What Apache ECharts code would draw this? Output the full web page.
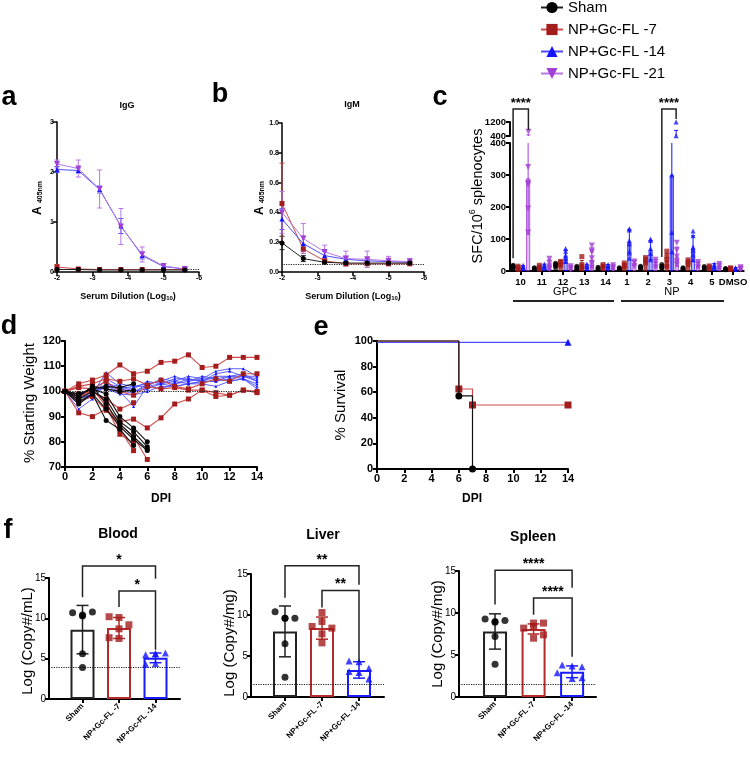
<!DOCTYPE html>
<html><head><meta charset="utf-8">
<script src="https://cdn.jsdelivr.net/npm/echarts@6/dist/echarts.min.js"></script>
<style>html,body{margin:0;padding:0;background:#fff}#c{width:750px;height:758px}</style>
</head><body><div id="c"></div>
<script>
// ================= DATA =================
const groupNames = ['Sham', 'NP+Gc-FL -7', 'NP+Gc-FL -14', 'NP+Gc-FL -21'];

// (a) IgG ELISA, (b) IgM ELISA
const dilutions = [-2, -2.6, -3.2, -3.8, -4.4, -5, -5.6];
const iggSham = [0.05, 0.05, 0.04, 0.04, 0.04, 0.04, 0.04];
const iggShamSd = [0.01, 0.01, 0.01, 0.01, 0.01, 0.01, 0.01];
const iggNp7 = [0.10, 0.06, 0.05, 0.05, 0.05, 0.05, 0.05];
const iggNp7Sd = [0.05, 0.02, 0.01, 0.01, 0.01, 0.01, 0.01];
const iggNp14 = [2.05, 2.03, 1.65, 0.92, 0.33, 0.11, 0.06];
const iggNp14Sd = [0.06, 0.05, 0.07, 0.15, 0.07, 0.03, 0.02];
const iggNp21 = [2.16, 2.07, 1.66, 0.91, 0.35, 0.12, 0.06];
const iggNp21Sd = [0.08, 0.17, 0.38, 0.36, 0.15, 0.05, 0.02];

const igmSham = [0.195, 0.09, 0.065, 0.06, 0.06, 0.06, 0.06];
const igmShamSd = [0.045, 0.02, 0.01, 0.01, 0.01, 0.01, 0.01];
const igmNp7 = [0.46, 0.155, 0.075, 0.055, 0.055, 0.055, 0.055];
const igmNp7Sd = [0.27, 0.03, 0.01, 0.01, 0.01, 0.01, 0.01];
const igmNp14 = [0.355, 0.19, 0.11, 0.085, 0.075, 0.07, 0.065];
const igmNp14Sd = [0.07, 0.05, 0.03, 0.02, 0.015, 0.01, 0.01];
const igmNp21 = [0.40, 0.225, 0.135, 0.09, 0.085, 0.075, 0.07];
const igmNp21Sd = [0.14, 0.10, 0.045, 0.05, 0.055, 0.03, 0.02];
const elisaCutoff = 0.05;

// (c) ELISpot
const cCats = ['10', '11', '12', '13', '14', '1', '2', '3', '4', '5', 'DMSO'];
const cSham = [14, 8, 20, 10, 8, 8, 12, 15, 8, 10, 6];
const cShamSd = [4, 3, 4, 5, 3, 3, 3, 5, 3, 4, 2];
const cNp7 = [10, 12, 25, 18, 15, 18, 35, 35, 28, 12, 8];
const cNp7Sd = [5, 5, 8, 15, 5, 6, 8, 20, 6, 5, 3];
const cNp14 = [12, 15, 45, 15, 15, 90, 65, 300, 70, 15, 8];
const cNp14Sd = [5, 6, 20, 6, 5, 40, 30, 420, 40, 8, 3];
const cNp21 = [290, 20, 10, 35, 12, 25, 20, 45, 20, 15, 8];
const cNp21Sd = [175, 15, 5, 25, 6, 8, 8, 30, 8, 8, 3];
const cShamDots = [[10,15,18,12],[5,8,10],[15,20,24],[5,10,15],[5,8,12],[5,8,10],[8,12,15],[10,15,20],[5,8,10],[6,10,14],[4,6,8]];
const cNp7Dots = [[5,10,15],[6,12,18],[18,25,30],[8,15,20,45],[10,15,20],[12,18,25],[25,35,42],[15,35,45,62],[20,28,35],[8,12,16],[5,8,10]];
const cNp14Dots = [[8,12,18],[10,15,22],[30,40,50,62,70],[8,15,22],[10,15,20],[40,60,85,95,128,132],[35,55,70,95,100],[60,120,300,420,1200],[35,50,65,75,110,125],[8,15,22],[5,8,10]];
const cNp21Dots = [[120,195,270,275,325,640],[8,15,25,38],[5,10,15],[10,25,40,60,65,80],[8,12,18],[15,25,30],[12,20,28,35],[20,30,45,65,88],[12,20,28],[8,15,22],[5,8,12]];
const cBreakLow = 400, cBreakHigh = 1200;
const cBrackets = [ // [category, left group, right group, left foot, right foot, top, label]
  [0, 0, 3, 40, 750, 1950, '****'],
  [7, 0, 2, 44, 1370, 1950, '****']
];
const cGroupLabels = ['GPC', 'NP'];

// (d) weight per mouse, index = day post infection
const dDays = [0,1,2,3,4,5,6,7,8,9,10,11,12,13,14];
const dShamMice = [
  [100, 99, 101, 99, 90, 85.5, 80],
  [100, 97, 100, 97, 88, 84, 78],
  [100, 98, 102, 95, 87, 82, 77],
  [100, 96, 99, 93, 86, 81, 76.5],
  [100, 95, 99, 88.5, 85, 78.5],
  [100, 99, 101, 102, 101.5, 103],
  [100, 98, 102, 101, 100, 100.5]
];
const dNp7Mice = [
  [100, 103, 104.5, 106.5, 110.5, 107, 108, 111.5, 112, 114.5, 109.5, 110, 113.5, 113.5, 113.5],
  [100, 91.5, 90, 93, 88, 89, 85.5, 89.5, 95, 97, 100.5, 99.5, 98.5, 100.5, 100],
  [100, 102, 103, 105, 104, 105, 102.5, 104.5, 102, 101, 103, 105, 104, 107, 107],
  [100, 101.5, 101, 104, 100, 98.5, 102, 101, 101.5, 100.5, 100.5, 98, 98.5, 100.5, 99.5],
  [100, 98, 100, 97, 93, 95.5],
  [100, 99, 100, 96, 85, 76.5],
  [100, 97, 101, 94, 83, 79.5],
  [100, 96, 98, 92.5, 87, 82, 73]
];
const dNp14Mice = [
  [100, 97, 99, 107.5, 103, 102, 103, 104, 106, 104, 105, 108, 109, 109, 106],
  [100, 96, 98, 105, 102, 101, 104, 103, 105, 105, 104, 107, 108, 106, 104],
  [100, 93, 97, 103, 101, 100, 102, 105, 104, 106, 105, 105, 104, 105, 103],
  [100, 98, 100, 102, 100, 94, 102, 101, 103, 105, 104, 104, 105, 106, 105],
  [100, 99, 101, 101, 99, 98.5, 100, 102, 102, 103, 103, 102, 104, 105, 102],
  [100, 95, 99, 103, 102, 100, 101, 103, 102, 103, 104, 106, 106, 107, 104],
  [100, 98, 101, 104, 100, 99.5, 103, 104, 103, 104, 106, 105, 106, 105, 101],
  [100, 97, 99, 102, 101, 102, 102, 103, 104, 103, 104, 104, 106, 106, 106]
];
const dBaseline = 100;

// (e) survival
const eShamDays = [0, 6, 7], eShamSurv = [100, 57.1, 0];
const eNp7Days = [0, 6, 7, 14], eNp7Surv = [100, 62.5, 50, 50];
const eNp14Days = [0, 14], eNp14Surv = [99, 99];

// (f) viral load
const fCats = ['Sham', 'NP+Gc-FL -7', 'NP+Gc-FL -14'];
const fBloodMean = [8.6, 8.8, 5.1], fBloodSd = [3.0, 1.3, 0.6];
const fBloodDots = [[10.4, 10.7, 10.8, 10.3, 5.6, 3.9], [10.1, 10.2, 9.2, 8.7, 7.5, 7.6], [5.6, 5.5, 5.7, 5.6, 4.4, 4.3]];
const fBloodLod = 3.9;
const fLiverMean = [8.0, 8.4, 3.3], fLiverSd = [3.1, 1.35, 1.0];
const fLiverDots = [[9.6, 10.4, 9.6, 9.6, 6.5, 2.4], [10.3, 9.2, 8.6, 8.4, 7.7, 6.6], [4.3, 4.4, 3.5, 3.0, 3.1, 2.2]];
const fLiverLod = 1.5;
const fSpleenMean = [7.8, 8.1, 3.0], fSpleenSd = [2.1, 0.6, 0.7];
const fSpleenDots = [[8.9, 9.3, 9.1, 9.0, 7.2, 3.9], [8.4, 8.2, 8.8, 8.8, 7.0, 7.4], [3.7, 3.8, 3.6, 2.9, 2.2, 2.3]];
const fSpleenLod = 1.5;
// brackets: [left cat, right cat, top, left foot, right foot, label]
const fBloodBr = [[0, 2, 16.5, 12.6, 14.9, '*'], [1, 2, 13.4, 11.4, 6.1, '*']];
const fLiverBr = [[0, 2, 16.0, 12.1, 13.7, '**'], [1, 2, 13.0, 10.9, 4.3, '**']];
const fSpleenBr = [[0, 2, 15.1, 11.0, 13.0, '****'], [1, 2, 11.8, 9.8, 4.8, '****']];

// ================= STYLE =================
const F = "'Liberation Sans', Arial, Helvetica, sans-serif";
const COL = ['#000000', '#a31d1d', '#1414ff', '#a23fd6'];
const LCOL = ['#222222', '#cf4a4a', '#4d4dff', '#b877e6'];
const FILL = ['rgba(60,60,60,0.85)', 'rgba(163,29,29,0.75)', 'rgba(40,40,255,0.35)', 'rgba(162,63,214,0.35)'];
const SYM = ['circle', 'rect', 'triangle', 'path://M0,0L10,0L5,9Z'];

const chart = echarts.init(document.getElementById('c'), null, {renderer: 'canvas'});

const grids = [
  {left: 57, top: 122, width: 142, height: 150},   // 0 a
  {left: 282, top: 123, width: 142, height: 149},  // 1 b
  {left: 510, top: 143, width: 240, height: 128},  // 2 c low
  {left: 510, top: 122, width: 240, height: 14},   // 3 c up
  {left: 65, top: 341, width: 192, height: 126},   // 4 d
  {left: 377, top: 341, width: 191, height: 128},  // 5 e
  {left: 49, top: 578, width: 131, height: 121},   // 6 f blood
  {left: 251, top: 574, width: 133, height: 123},  // 7 f liver
  {left: 459, top: 571, width: 137, height: 126}   // 8 f spleen
].map(g => Object.assign({containLabel: false}, g));

function axis(gi, type, fs, fw, lw, extra) {
  const a = {
    type: type, gridIndex: gi,
    axisLine: {show: true, onZero: false, lineStyle: {color: '#000', width: lw}},
    axisTick: {show: true, length: 4, lineStyle: {color: '#000', width: lw}},
    axisLabel: {color: '#000', fontSize: fs, fontWeight: fw, fontFamily: F, margin: 4},
    splitLine: {show: false}
  };
  for (const k in extra) {
    if (typeof extra[k] === 'object' && !Array.isArray(extra[k]) && a[k]) Object.assign(a[k], extra[k]);
    else a[k] = extra[k];
  }
  return a;
}

const fX = (gi, mn, mx) => axis(gi, 'value', 8, 'bold', 2, {min: mn, max: mx, axisTick: {customValues: [0, 1, 2]},
  axisLabel: {customValues: [0, 1, 2], rotate: 45, formatter: v => fCats[Math.round(v)], margin: 6}});
const xAxes = [
  axis(0, 'value', 7, 'bold', 1.5, {inverse: true, min: -6, max: -2, interval: 1, axisLabel: {margin: 3}}),
  axis(1, 'value', 7, 'bold', 1.5, {inverse: true, min: -6, max: -2, interval: 1, axisLabel: {margin: 3}}),
  axis(2, 'category', 9.5, 'bold', 2, {data: cCats, axisTick: {alignWithLabel: true}, axisLabel: {margin: 6, interval: 0}}),
  axis(3, 'category', 10, 'bold', 2, {data: cCats, show: false}),
  axis(4, 'value', 11, 'bold', 2, {min: 0, max: 14, interval: 2}),
  axis(5, 'value', 11, 'bold', 2, {min: 0, max: 14, interval: 2}),
  fX(6, -0.918, 2.671),
  fX(7, -0.919, 2.676),
  fX(8, -0.935, 2.62)
];
const yAxes = [
  axis(0, 'value', 7, 'bold', 1.5, {min: 0, max: 3, interval: 1, axisLabel: {margin: 3}}),
  axis(1, 'value', 7, 'bold', 1.5, {min: 0, max: 1, interval: 0.2, axisLabel: {margin: 3, formatter: v => v.toFixed(1)}}),
  axis(2, 'value', 9.5, 'bold', 2, {min: 0, max: cBreakLow, interval: 100, axisLabel: {formatter: v => String(v)}}),
  axis(3, 'value', 9.5, 'bold', 2, {min: cBreakLow, max: cBreakHigh, axisTick: {customValues: [cBreakLow, cBreakHigh]},
    axisLabel: {customValues: [cBreakLow, cBreakHigh], formatter: v => String(v)}}),
  axis(4, 'value', 11, 'bold', 2, {min: 70, max: 120, interval: 10}),
  axis(5, 'value', 11, 'bold', 2, {min: 0, max: 100, interval: 20}),
  axis(6, 'value', 10, 'normal', 2, {min: 0, max: 15, interval: 5, axisLabel: {margin: 3}}),
  axis(7, 'value', 10, 'normal', 2, {min: 0, max: 15, interval: 5, axisLabel: {margin: 3}}),
  axis(8, 'value', 10, 'normal', 2, {min: 0, max: 15, interval: 5, axisLabel: {margin: 3}})
];

// error bar renderer: data rows [x, mean, sd]
function errSeries(gi, rows, colors, capHalf, offset, lw, lo, hi) {
  return {
    type: 'custom', xAxisIndex: gi, yAxisIndex: gi, data: rows, silent: true, z: 4,
    encode: {x: 0, y: 1}, clip: false,
    renderItem: function (params, api) {
      const x = api.value(0), m = api.value(1), s = api.value(2);
      const a = m - s, b = m + s;
      const aC = Math.max(a, lo), bC = Math.min(b, hi);
      if (!(bC > aC)) return null;
      const p1 = api.coord([x, aC]), p2 = api.coord([x, bC]);
      const px = p1[0] + offset;
      const col = Array.isArray(colors) ? colors[params.dataIndex] : colors;
      const st = {stroke: col, lineWidth: lw};
      const ch = [{type: 'line', shape: {x1: px, y1: p1[1], x2: px, y2: p2[1]}, style: st}];
      if (b <= hi) ch.push({type: 'line', shape: {x1: px - capHalf, y1: p2[1], x2: px + capHalf, y2: p2[1]}, style: st});
      if (a >= lo) ch.push({type: 'line', shape: {x1: px - capHalf, y1: p1[1], x2: px + capHalf, y2: p1[1]}, style: st});
      return {type: 'group', children: ch};
    }
  };
}

const series = [];
const dotted = (v) => ({silent: true, symbol: 'none', label: {show: false}, lineStyle: {type: 'dotted', color: '#222', width: 1.2}, data: [{yAxis: v}]});

// ---- a & b ----
function elisa(gi, vals, sds) {
  vals.forEach((ys, k) => {
    series.push({
      type: 'line', name: groupNames[k], xAxisIndex: gi, yAxisIndex: gi,
      data: dilutions.map((x, i) => [x, ys[i]]),
      symbol: SYM[k], symbolSize: k === 3 ? 6 : 5, showAllSymbol: true,
      itemStyle: {color: COL[k]}, lineStyle: {color: LCOL[k], width: 1}, z: 5 + (k === 0 ? 3 : 0),
      markLine: k === 0 ? dotted(elisaCutoff) : undefined
    });
    series.push(errSeries(gi, dilutions.map((x, i) => [x, ys[i], sds[k][i]]), LCOL[k], 2.5, 0, 1, -Infinity, Infinity));
  });
}
elisa(0, [iggSham, iggNp7, iggNp14, iggNp21], [iggShamSd, iggNp7Sd, iggNp14Sd, iggNp21Sd]);
elisa(1, [igmSham, igmNp7, igmNp14, igmNp21], [igmShamSd, igmNp7Sd, igmNp14Sd, igmNp21Sd]);

// ---- c ----
const cMeans = [cSham, cNp7, cNp14, cNp21];
const cSds = [cShamSd, cNp7Sd, cNp14Sd, cNp21Sd];
const cDots = [cShamDots, cNp7Dots, cNp14Dots, cNp21Dots];
const cOff = [-7.5, -2.5, 2.5, 7.5];
cMeans.forEach((m, k) => {
  series.push({
    type: 'bar', name: groupNames[k], xAxisIndex: 2, yAxisIndex: 2, data: m.map(v => Math.min(v, cBreakLow)),
    barWidth: 4, barGap: '25%', itemStyle: {color: FILL[k], borderColor: COL[k], borderWidth: 0.8}, z: 2
  });
});
cMeans.forEach((m, k) => {
  const rows = m.map((v, i) => [i, v, cSds[k][i]]);
  series.push(errSeries(2, rows, COL[k], 2, cOff[k], 1, 0, cBreakLow));
  series.push(errSeries(3, rows, COL[k], 2, cOff[k], 1, cBreakLow, cBreakHigh + 1));
  const low = [], up = [];
  cDots[k].forEach((arr, i) => arr.forEach(v => (v <= cBreakLow ? low : up).push([i, v])));
  const sc = {type: 'scatter', name: groupNames[k], symbol: SYM[k], symbolSize: k === 3 ? 6 : 5, symbolOffset: [cOff[k], 0], itemStyle: {color: COL[k]}, z: 6};
  series.push(Object.assign({}, sc, {xAxisIndex: 2, yAxisIndex: 2, data: low}));
  series.push(Object.assign({}, sc, {xAxisIndex: 3, yAxisIndex: 3, data: up, clip: false}));
});

// ---- d ----
[[dNp14Mice, 2], [dNp7Mice, 1], [dShamMice, 0]].forEach(([mice, k]) => {
  mice.forEach((w, j) => {
    series.push({
      type: 'line', name: groupNames[k], xAxisIndex: 4, yAxisIndex: 4,
      data: w.map((v, i) => [dDays[i], v]),
      symbol: SYM[k], symbolSize: k === 2 ? 3 : 5, showAllSymbol: true,
      itemStyle: {color: COL[k]}, lineStyle: {color: k === 0 ? '#111' : LCOL[k], width: k === 2 ? 0.9 : 1.1},
      z: k === 0 ? 6 : (k === 1 ? 4 : 3),
      markLine: (k === 2 && j === 0) ? dotted(dBaseline) : undefined
    });
  });
});

// ---- e ----
function survival(days, surv, k) {
  const data = days.map((d, i) => (i === 0 ? {value: [d, surv[i]], symbol: 'none'} : [d, surv[i]]));
  series.push({
    type: 'line', name: groupNames[k], xAxisIndex: 5, yAxisIndex: 5, step: 'end', data: data,
    symbol: SYM[k], symbolSize: 7, showAllSymbol: true, clip: false,
    itemStyle: {color: COL[k]}, lineStyle: {color: k === 0 ? '#111' : LCOL[k], width: 1.2}, z: 3 + (k === 0 ? 2 : 0)
  });
}
survival(eNp14Days, eNp14Surv, 2);
survival(eNp7Days, eNp7Surv, 1);
survival(eShamDays, eShamSurv, 0);

// ---- f ----
function swarm(vals, cat, pxX, pxY, d) {
  const placed = [];
  return vals.map(v => {
    for (const k of [0, -1, 1, -2, 2, -3, 3]) {
      const x = cat + k * d * 0.55 / pxX;
      if (placed.every(p => Math.hypot((p[0] - x) * pxX, (p[1] - v) * pxY) >= d)) { placed.push([x, v]); return [x, v]; }
    }
    placed.push([cat, v]); return [cat, v];
  });
}
const FBORDER = ['#222', '#b52a2a', '#1a1aff'];
function fPanel(gi, means, sds, dots, lod, pxX, pxY) {
  series.push({
    type: 'bar', xAxisIndex: gi, yAxisIndex: gi, barWidth: 24, z: 2,
    data: means.map((m, i) => ({value: [i, m], itemStyle: {color: 'rgba(255,255,255,0)', borderColor: FBORDER[i], borderWidth: 2}})),
    markLine: dotted(lod)
  });
  series.push(errSeries(gi, means.map((m, i) => [i, m, sds[i]]), FBORDER, 6, 0, 1.5, -Infinity, Infinity));
  dots.forEach((vals, i) => {
    series.push({
      type: 'scatter', name: groupNames[i], xAxisIndex: gi, yAxisIndex: gi, symbol: SYM[i], symbolSize: 7,
      itemStyle: {color: COL[i]}, z: 5, data: swarm(vals, i, pxX, pxY, 9)
    });
  });
}
fPanel(6, fBloodMean, fBloodSd, fBloodDots, fBloodLod, 36.5, 8.07);
fPanel(7, fLiverMean, fLiverSd, fLiverDots, fLiverLod, 37, 8.2);
fPanel(8, fSpleenMean, fSpleenSd, fSpleenDots, fSpleenLod, 38.5, 8.4);

chart.setOption({
  animation: false,
  backgroundColor: '#fff',
  textStyle: {fontFamily: F},
  legend: {
    data: groupNames, orient: 'vertical', left: 535, top: -5, itemWidth: 22, itemHeight: 14, itemGap: 7,
    selectedMode: false, textStyle: {fontSize: 15, color: '#000', fontFamily: F, lineHeight: 14}
  },
  grid: grids, xAxis: xAxes, yAxis: yAxes, series: series
});

// ================= ANNOTATIONS =================
const G = [];
function T(text, x, y, size, weight, rot, extra) {
  const st = Object.assign({text: text, x: 0, y: 0, fill: '#000', fontSize: size, fontWeight: weight, fontFamily: F, align: 'center', verticalAlign: 'middle'}, extra || {});
  G.push({type: 'text', x: x, y: y, rotation: rot || 0, style: st, z: 100});
}
function L(pts, w) {
  G.push({type: 'polyline', shape: {points: pts}, style: {stroke: '#222', lineWidth: w || 1.5, fill: null}, z: 100});
}
// panel letters
[['a', 9, 98], ['b', 220, 95], ['c', 440, 98], ['d', 9, 327], ['e', 321, 328], ['f', 8, 531]].forEach(p => T(p[0], p[1], p[2], 27, 'bold'));
// a, b titles
T('IgG', 127, 106, 9, 'bold');
T('IgM', 352, 105, 9, 'bold');
const serumRich = {b: {fontSize: 9, fontWeight: 'bold', fontFamily: F, verticalAlign: 'bottom', lineHeight: 12}, s: {fontSize: 6, fontWeight: 'bold', fontFamily: F, verticalAlign: 'bottom', lineHeight: 9}};
T('{b|Serum Dilution (Log}{s|10}{b|)}', 128, 295, 9, 'bold', 0, {rich: serumRich});
T('{b|Serum Dilution (Log}{s|10}{b|)}', 353, 295, 9, 'bold', 0, {rich: serumRich});
const aRich = {a: {fontSize: 12, fontWeight: 'bold', fontFamily: F, verticalAlign: 'bottom', lineHeight: 14}, s: {fontSize: 7, fontWeight: 'bold', fontFamily: F, verticalAlign: 'bottom', lineHeight: 10}};
T('{a|A} {s|405nm}', 37, 198, 12, 'bold', Math.PI / 2, {rich: aRich});
T('{a|A} {s|405nm}', 259, 198, 12, 'bold', Math.PI / 2, {rich: aRich});
// c
T('{m|SFC/10}{p|6}{m| splenocytes}', 477, 196, 14.5, 'normal', Math.PI / 2, {rich: {
  m: {fontSize: 14.5, fontFamily: F, verticalAlign: 'bottom', lineHeight: 17},
  p: {fontSize: 9, fontFamily: F, verticalAlign: 'bottom', lineHeight: 9, padding: [0, 0, 8, 0]}}});
T(cGroupLabels[0], 565, 292, 11, 'normal');
T(cGroupLabels[1], 672, 292, 11, 'normal');
L([[513, 301], [614, 301]], 2);
L([[621, 301], [724, 301]], 2);
// d, e
T('% Starting Weight', 30, 403, 15, 'normal', Math.PI / 2);
T('DPI', 161, 499, 12, 'bold');
T('% Survival', 341, 405, 15, 'normal', Math.PI / 2);
T('DPI', 472, 499, 12, 'bold');
// f
T('Blood', 118, 534, 14, 'bold');
T('Liver', 323, 535, 14, 'bold');
T('Spleen', 533, 537, 14, 'bold');
T('Log (Copy#/mL)', 28, 641, 15, 'normal', Math.PI / 2);
T('Log (Copy#/mg)', 230, 643, 15, 'normal', Math.PI / 2);
T('Log (Copy#/mg)', 438, 634, 15, 'normal', Math.PI / 2);

// c brackets
cBrackets.forEach(([cat, gl, gr, lf, rf, top, lab]) => {
  const pL = chart.convertToPixel({gridIndex: 2}, [cat, lf]);
  const pR = chart.convertToPixel({gridIndex: 3}, [cat, rf]);
  const pT = chart.convertToPixel({gridIndex: 3}, [cat, top]);
  const xl = pL[0] + cOff[gl], xr = pR[0] + cOff[gr];
  L([[xl, pL[1]], [xl, pT[1]], [xr, pT[1]], [xr, pR[1]]], 1.5);
  T(lab, (xl + xr) / 2, pT[1] - 5, 13, 'bold');
});
// f brackets
[[6, fBloodBr], [7, fLiverBr], [8, fSpleenBr]].forEach(([gi, brs]) => {
  brs.forEach(([l, r, top, lf, rf, lab]) => {
    const a = chart.convertToPixel({gridIndex: gi}, [l, lf]);
    const b = chart.convertToPixel({gridIndex: gi}, [r, rf]);
    const t = chart.convertToPixel({gridIndex: gi}, [l, top]);
    L([[a[0], a[1]], [a[0], t[1]], [b[0], t[1]], [b[0], b[1]]], 1.5);
    T(lab, (a[0] + b[0]) / 2, t[1] - 6, 14, 'bold');
  });
});

chart.setOption({graphic: {elements: G}});
</script></body></html>
